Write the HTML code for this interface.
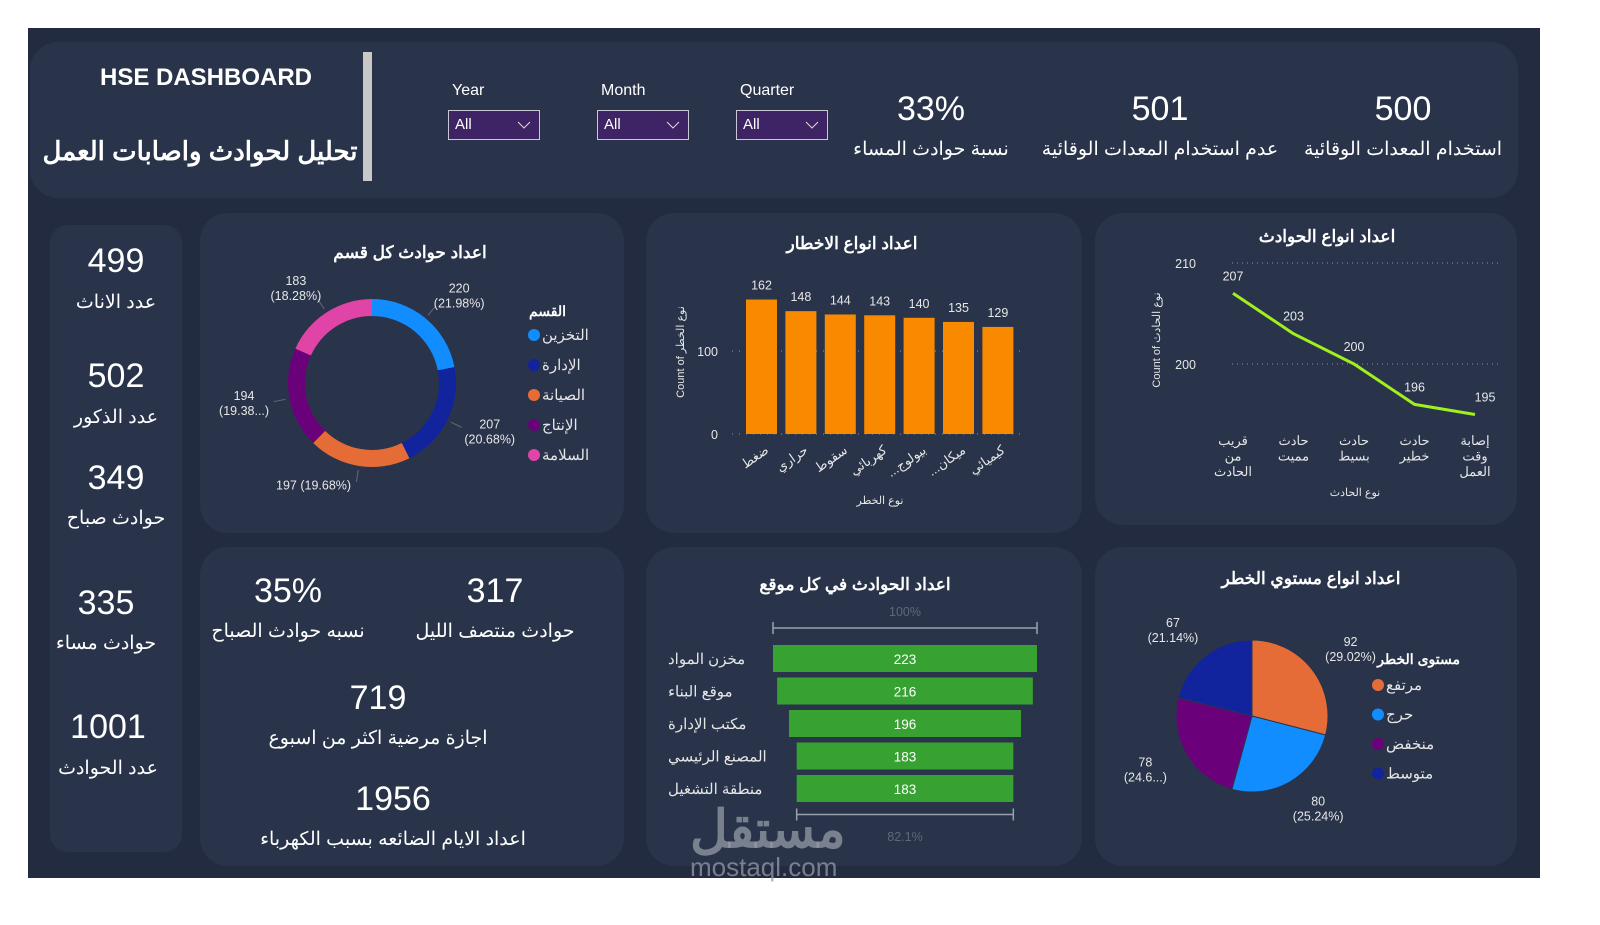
<!DOCTYPE html>
<html><head><meta charset="utf-8">
<style>
body{margin:0;width:1600px;height:925px;background:#fff;position:relative;overflow:hidden;font-family:"Liberation Sans","Noto Sans CJK SC",sans-serif;color:#fff}
#frame{position:absolute;left:28px;top:28px;width:1512px;height:850px;background:#222b40}
.p{position:absolute;background:#29344a;border-radius:28px}
.t{position:absolute;text-align:center;white-space:nowrap}
.slicer{position:absolute;width:92px;height:30px;box-sizing:border-box;border:1.5px solid #c9c9d6;background:#3e2464;font-size:15px;line-height:28px;padding-left:6px}
.slicer svg{position:absolute;right:8px;top:10px}
svg text{font-family:"Liberation Sans","Noto Sans CJK SC",sans-serif}
</style></head><body>
<div id="frame"></div>
<div class="p" style="left:30px;top:42px;width:1488px;height:156px"></div>
<div class="t" style="left:60px;top:64px;width:292px;font-size:24px;font-weight:bold">HSE DASHBOARD</div>
<div class="t" style="left:40px;top:136px;width:320px;font-size:26px;font-weight:bold">تحليل لحوادث واصابات العمل</div>
<div style="position:absolute;left:363px;top:52px;width:9px;height:129px;background:#c8c8c8"></div>

<div class="t" style="left:452px;top:82px;font-size:16px">Year</div>
<div class="slicer" style="left:448px;top:110px">All<svg width="14" height="8"><path d="M1,1L7,7L13,1" stroke="#ddd" fill="none"/></svg></div>
<div class="t" style="left:601px;top:82px;font-size:16px">Month</div>
<div class="slicer" style="left:597px;top:110px">All<svg width="14" height="8"><path d="M1,1L7,7L13,1" stroke="#ddd" fill="none"/></svg></div>
<div class="t" style="left:740px;top:82px;font-size:16px">Quarter</div>
<div class="slicer" style="left:736px;top:110px">All<svg width="14" height="8"><path d="M1,1L7,7L13,1" stroke="#ddd" fill="none"/></svg></div>

<div class="t" style="left:850px;top:90px;width:162px;font-size:34px">33%</div>
<div class="t" style="left:850px;top:138px;width:162px;font-size:19px">نسبة حوادث المساء</div>
<div class="t" style="left:1040px;top:90px;width:240px;font-size:34px">501</div>
<div class="t" style="left:1040px;top:138px;width:240px;font-size:19px">عدم استخدام المعدات الوقائية</div>
<div class="t" style="left:1300px;top:90px;width:206px;font-size:34px">500</div>
<div class="t" style="left:1300px;top:138px;width:206px;font-size:19px">استخدام المعدات الوقائية</div>

<div class="p" style="left:50px;top:225px;width:132px;height:627px;border-radius:18px"></div>
<div class="t" style="left:50px;top:242px;width:132px;font-size:34px">499</div>
<div class="t" style="left:50px;top:291px;width:132px;font-size:19px">عدد الاناث</div>
<div class="t" style="left:50px;top:357px;width:132px;font-size:34px">502</div>
<div class="t" style="left:50px;top:406px;width:132px;font-size:19px">عدد الذكور</div>
<div class="t" style="left:50px;top:459px;width:132px;font-size:34px">349</div>
<div class="t" style="left:50px;top:507px;width:132px;font-size:19px">حوادث صباح</div>
<div class="t" style="left:40px;top:584px;width:132px;font-size:34px">335</div>
<div class="t" style="left:40px;top:632px;width:132px;font-size:19px">حوادث مساء</div>
<div class="t" style="left:42px;top:708px;width:132px;font-size:34px">1001</div>
<div class="t" style="left:42px;top:757px;width:132px;font-size:19px">عدد الحوادث</div>

<div class="p" style="left:200px;top:213px;width:424px;height:320px"></div>
<div class="p" style="left:646px;top:213px;width:436px;height:320px"></div>
<div class="p" style="left:1095px;top:213px;width:422px;height:312px"></div>
<div class="p" style="left:200px;top:547px;width:424px;height:319px"></div>
<div class="p" style="left:646px;top:547px;width:436px;height:319px"></div>
<div class="p" style="left:1095px;top:547px;width:422px;height:319px"></div>

<div class="t" style="left:208px;top:572px;width:160px;font-size:34px">35%</div>
<div class="t" style="left:203px;top:620px;width:170px;font-size:19px">نسبه حوادث الصباح</div>
<div class="t" style="left:410px;top:572px;width:170px;font-size:34px">317</div>
<div class="t" style="left:405px;top:620px;width:180px;font-size:19px">حوادث منتصف الليل</div>
<div class="t" style="left:228px;top:679px;width:300px;font-size:34px">719</div>
<div class="t" style="left:228px;top:727px;width:300px;font-size:19px">اجازة مرضية اكثر من اسبوع</div>
<div class="t" style="left:243px;top:780px;width:300px;font-size:34px">1956</div>
<div class="t" style="left:243px;top:828px;width:300px;font-size:19px">اعداد الايام الضائعه بسبب الكهرباء</div>

<svg id="ch" width="1600" height="925" style="position:absolute;left:0;top:0"></svg>

<div class="t" style="left:690px;top:800px;font-size:52px;font-weight:bold;color:rgba(150,155,165,0.75)">مستقل</div>
<div class="t" style="left:690px;top:852px;font-size:26px;color:rgba(150,155,165,0.75)">mostaql.com</div>

<script>
const deptNames=['التخزين','الإدارة','الصيانة','الإنتاج','السلامة'];
const deptValues=[220,207,197,194,183];
const deptLabels=['220\n(21.98%)','207\n(20.68%)','197 (19.68%)','194\n(19.38...)','183\n(18.28%)'];
const deptColors=['#118dff','#12239e','#e66c37','#6b007b','#e044a7'];
const hazardCats=['ضغط','حراري','سقوط','كهربائي','...بيولوج','...ميكان','كيميائي'];
const hazardValues=[162,148,144,143,140,135,129];
const hazardTicks=[0,100];
const typeCats=[['قريب','من','الحادث'],['حادث','مميت'],['حادث','بسيط'],['حادث','خطير'],['إصابة','وقت','العمل']];
const typeValues=[207,203,200,196,195];
const typeTicks=[200,210];
const locCats=['مخزن المواد','موقع البناء','مكتب الإدارة','المصنع الرئيسي','منطقة التشغيل'];
const locValues=[223,216,196,183,183];
const riskNames=['مرتفع','حرج','منخفض','متوسط'];
const riskValues=[92,80,78,67];
const riskLabels=['92\n(29.02%)','80\n(25.24%)','78\n(24.6...)','67\n(21.14%)'];
const riskColors=['#e66c37','#118dff','#6b007b','#12239e'];

const svg=document.getElementById('ch');const NS='http://www.w3.org/2000/svg';
function mk(tag,a,parent){const e=document.createElementNS(NS,tag);for(const k in a)e.setAttribute(k,a[k]);(parent||svg).appendChild(e);return e;}
function txt(x,y,s,sz,fill,anchor,extra){const lines=s.split('\n');const t=mk('text',Object.assign({x:x,y:y,'font-size':sz,fill:fill||'#fff','text-anchor':anchor||'middle'},extra||{}));lines.forEach((l,i)=>{const ts=mk('tspan',{x:x,dy:i?sz*1.2:0},t);ts.textContent=l;});return t;}

let tt;
tt=txt(410,258,'اعداد حوادث كل قسم',17,'#fff','middle',{'font-weight':'bold'});


tt=txt(852,249,'اعداد انواع الاخطار',17,'#fff','middle',{'font-weight':'bold'});


tt=txt(1327,242,'اعداد انواع الحوادث',17,'#fff','middle',{'font-weight':'bold'});


tt=txt(855,590,'اعداد الحوادث في كل موقع',17,'#fff','middle',{'font-weight':'bold'});


tt=txt(1311,584,'اعداد انواع مستوي الخطر',17,'#fff','middle',{'font-weight':'bold'});



function arc(cx,cy,r0,r1,a0,a1){const p=(r,a)=>[cx+r*Math.sin(a),cy-r*Math.cos(a)];const lg=(a1-a0)>Math.PI?1:0;const A=p(r1,a0),B=p(r1,a1);
 if(r0===0){return `M${cx},${cy}L${A}A${r1},${r1} 0 ${lg} 1 ${B}Z`;}
 const C=p(r0,a1),D=p(r0,a0);return `M${A}A${r1},${r1} 0 ${lg} 1 ${B}L${C}A${r0},${r0} 0 ${lg} 0 ${D}Z`;}

(function(){const cx=372,cy=383,tot=deptValues.reduce((a,b)=>a+b,0);let a=0;
 deptValues.forEach((v,i)=>{const a1=a+v/tot*2*Math.PI;const s=mk('path',{d:arc(cx,cy,67,84,a,a1),fill:deptColors[i]});
  
  
  const m=(a+a1)/2;const lx=cx+118*Math.sin(m),ly=cy-112*Math.cos(m);
  mk('line',{x1:cx+88*Math.sin(m),y1:cy-88*Math.cos(m),x2:cx+100*Math.sin(m),y2:cy-100*Math.cos(m),stroke:'#667',"stroke-width":1});
  const right=Math.sin(m)>0.3,left=Math.sin(m)<-0.3;
  const l=txt(lx+(right?12:left?-12:-40),ly-4,deptLabels[i],12.5,'#e6e6e6','middle');
  
  
  a=a1;});
 const lt=txt(566,316,'القسم',14,'#fff','end',{'font-weight':'bold'});
 
 
 deptNames.forEach((n,i)=>{const y=340+i*30;
  const d=mk('circle',{cx:534,cy:y-5,r:6,fill:deptColors[i]});
  
  
  const l=txt(542,y,n,15,'#e6e6e6','start');
  
  });
})();

(function(){const y0=434,ppu=0.83,x0=741,step=39.4,bw=31;const yS=v=>y0-v*ppu;
 hazardTicks.forEach(t=>{mk('line',{x1:732,x2:1025,y1:yS(t),y2:yS(t),stroke:'#8a93a6','stroke-dasharray':'1 6'});
  const l=txt(718,yS(t)+5,String(t),12.5,'#e6e6e6','end');
  
  });
 hazardValues.forEach((v,i)=>{const x=x0+5+i*step;
  const r=mk('rect',{x:x,y:yS(v),width:bw,height:v*ppu,fill:'#f98a00'});
  
  
  const l=txt(x+bw/2,yS(v)-10,String(v),12.5,'#e6e6e6');
  
  
  const c=txt(x+bw/2+8,y0+18,hazardCats[i],13,'#e6e6e6','end',{transform:`rotate(-35 ${x+bw/2+8} ${y0+18})`});
  
  });
 const yt=txt(684,352,'Count of نوع الخطر',11,'#e6e6e6','middle',{transform:'rotate(-90 684 352)'});
 
 
 const xt=txt(880,504,'نوع الخطر',11,'#e6e6e6');
 
 
})();

(function(){const yS=v=>364-(v-200)*10.1;const x0=1233,step=60.5;
 typeTicks.forEach(t=>{mk('line',{x1:1232,x2:1500,y1:yS(t),y2:yS(t),stroke:'#8a93a6','stroke-dasharray':'1 4'});
  const l=txt(1196,yS(t)+5,String(t),12.5,'#e6e6e6','end');
  
  });
 const pts=typeValues.map((v,i)=>[x0+i*step,yS(v)]);
 const pl=mk('polyline',{points:pts.map(p=>p.join(',')).join(' '),fill:'none',stroke:'#a0f01e','stroke-width':3,'stroke-linejoin':'round'});
 
 
 typeValues.forEach((v,i)=>{const l=txt(pts[i][0]+(i==4?10:0),pts[i][1]-13,String(v),12.5,'#e6e6e6');
  
  
  const c=txt(pts[i][0],445,typeCats[i].join('\n'),13,'#e6e6e6');
  
  });
 const yt=txt(1160,340,'Count of نوع الحادث',11,'#e6e6e6','middle',{transform:'rotate(-90 1160 340)'});
 
 
 const xt=txt(1355,496,'نوع الحادث',11,'#e6e6e6');
 
 
})();

(function(){const cx=905,scale=264/locValues[0],y0=645,step=32.5,h=27;
 const w0=locValues[0]*scale,wl=locValues[locValues.length-1]*scale;
 const top=txt(cx,616,'100%',12.5,'#5f6878');
 mk('path',{d:`M${cx-w0/2},622V634M${cx-w0/2},628H${cx+w0/2}M${cx+w0/2},622V634`,stroke:'#9aa0ac','stroke-width':1.5,fill:'none'});
 locValues.forEach((v,i)=>{const w=v*scale,y=y0+i*step;
  const r=mk('rect',{x:cx-w/2,y:y,width:w,height:h,fill:'#37a232'});
  
  
  const l=txt(cx,y+19,String(v),13.5,'#fff');
  
  
  const c=txt(668,y+19,locCats[i],15,'#e6e6e6','start');
  
  });
 const yb=y0+locValues.length*step+7;
 mk('path',{d:`M${cx-wl/2},${yb-6}V${yb+6}M${cx-wl/2},${yb}H${cx+wl/2}M${cx+wl/2},${yb-6}V${yb+6}`,stroke:'#9aa0ac','stroke-width':1.5,fill:'none'});
 const b=txt(cx,841,(locValues[locValues.length-1]/locValues[0]*100).toFixed(1)+'%',12.5,'#5f6878');
 
})();

(function(){const cx=1252,cy=716,r=76,tot=riskValues.reduce((a,b)=>a+b,0);let a=0;
 riskValues.forEach((v,i)=>{const a1=a+v/tot*2*Math.PI;
  const s=mk('path',{d:arc(cx,cy,0,r,a,a1),fill:riskColors[i],stroke:'#29344a','stroke-width':1});
  
  
  const m=(a+a1)/2;const lx=cx+112*Math.sin(m),ly=cy-108*Math.cos(m);
  const l=txt(lx+(Math.sin(m)>0?10:-10),ly-4,riskLabels[i],12.5,'#e6e6e6');
  
  
  a=a1;});
 const lt=txt(1460,664,'مستوى الخطر',14,'#fff','end',{'font-weight':'bold'});
 
 riskNames.forEach((n,i)=>{const y=690+i*29.5;
  const d=mk('circle',{cx:1378,cy:y-5,r:6,fill:riskColors[i]});
  
  
  const l=txt(1386,y,n,15,'#e6e6e6','start');
  
  });
})();
</script>
</body></html>
